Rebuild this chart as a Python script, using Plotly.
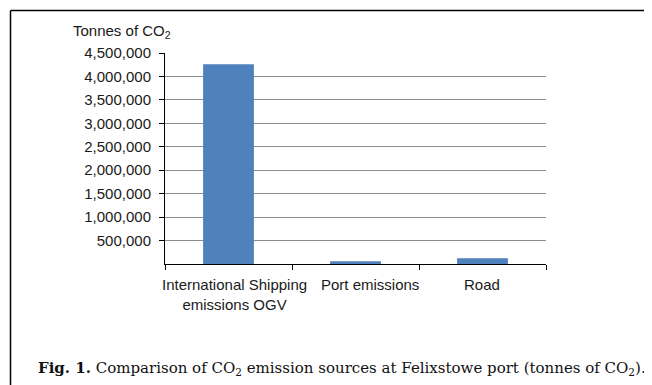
import plotly.graph_objects as go

categories = ["International Shipping<br>emissions OGV", "Port emissions", "Road"]
emissions = [4260000, 60000, 120000]
y_tickvals = [500000, 1000000, 1500000, 2000000, 2500000, 3000000, 3500000, 4000000, 4500000]
y_ticktext = ["500,000", "1,000,000", "1,500,000", "2,000,000", "2,500,000",
              "3,000,000", "3,500,000", "4,000,000", "4,500,000"]
label_shift = [6, 14, -1]

OFF = 8  # page body margin
W, H = 652 - OFF - 2, 385 - OFF
L, R, T, B = 165 - OFF, 546 - OFF, 53 - OFF, 264 - OFF


def px(x):
    return (x - OFF - L) / (R - L)


def py(y):
    return (B - (y - OFF)) / (B - T)


fig = go.Figure(go.Bar(x=categories, y=emissions,
                       marker=dict(color="#4F81BD", line=dict(width=0)), width=0.4))

fig.update_layout(
    width=W, height=H,
    margin=dict(l=L, r=W - R, t=T, b=H - B, autoexpand=False),
    paper_bgcolor="white", plot_bgcolor="white",
    font=dict(family="Liberation Sans, Arial", size=15, color="#1a1a1a"),
    showlegend=False,
)
fig.update_yaxes(range=[0, 4500000], tickvals=y_tickvals, ticktext=y_ticktext,
                 showgrid=True, gridcolor="#8c8c8c", gridwidth=1,
                 showline=True, linecolor="black", linewidth=1,
                 ticks="outside", ticklen=5, tickcolor="black", zeroline=False,
                 ticklabelstandoff=5, tickfont=dict(size=15))
fig.update_xaxes(showline=True, linecolor="black", linewidth=1, tickson="boundaries",
                 ticks="outside", ticklen=5, tickcolor="black", showgrid=False,
                 showticklabels=False, range=[-0.5, 2.5])

for cat, sh in zip(categories, label_shift):
    fig.add_annotation(text=cat, x=cat, xref="x", yref="paper", y=py(274),
                       xanchor="center", yanchor="top", xshift=sh, showarrow=False,
                       font=dict(size=15, color="#1a1a1a"))

fig.add_annotation(text="Tonnes of CO<sub>2</sub>", xref="paper", yref="paper",
                   x=px(71), y=py(32), xanchor="left", yanchor="middle",
                   showarrow=False, font=dict(size=15, color="#1a1a1a"))
fig.add_annotation(text="<b>Fig. 1.</b> Comparison of CO<sub>2</sub> emission sources at Felixstowe port (tonnes of CO<sub>2</sub>).",
                   xref="paper", yref="paper", x=px(36), y=py(368), xanchor="left", yanchor="middle",
                   showarrow=False, font=dict(family="DejaVu Serif", size=15, color="#111"))

# frame lines (left and top border of the figure box)
fig.add_shape(type="line", xref="paper", yref="paper", x0=px(10.5), x1=px(652), y0=py(10.5), y1=py(10.5),
              line=dict(color="black", width=1.5))
fig.add_shape(type="line", xref="paper", yref="paper", x0=px(10.5), x1=px(10.5), y0=py(10.5), y1=py(385),
              line=dict(color="black", width=1.5))

fig.write_html("out.html", config={"displayModeBar": False})
